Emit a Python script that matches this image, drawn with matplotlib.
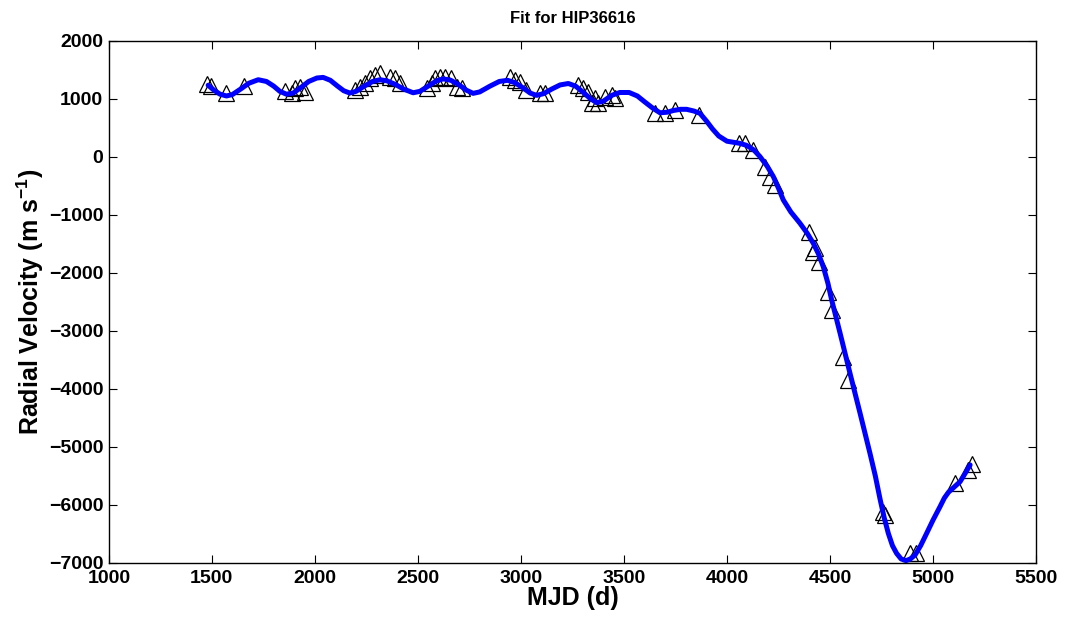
import matplotlib
matplotlib.use('Agg')
import matplotlib.pyplot as plt

plt.rcParams['font.family'] = ['Liberation Sans', 'DejaVu Sans']
plt.rcParams['mathtext.fontset'] = 'custom'
plt.rcParams['mathtext.rm'] = 'Liberation Sans'
plt.rcParams['mathtext.bf'] = 'Liberation Sans:bold'

# Observed radial velocities (triangles)
obs_mjd = [1474, 1498, 1571, 1655, 1854, 1887, 1903, 1927, 1951,
           2194, 2219, 2243, 2267, 2292, 2316, 2364, 2389, 2413,
           2542, 2566, 2583, 2607, 2631, 2663, 2688, 2712,
           2947, 2971, 2995, 3027, 3092, 3117,
           3279, 3303, 3327, 3343, 3359, 3375, 3408, 3440, 3457,
           3650, 3699, 3748, 3864,
           4058, 4087, 4128, 4184, 4210, 4233,
           4400, 4419, 4427, 4448, 4488, 4508, 4561, 4589,
           4758, 4767, 4888, 4917, 5107, 5171, 5187]
obs_rv = [1259, 1224, 1098, 1224, 1130, 1098, 1184, 1213, 1126,
          1155, 1213, 1270, 1357, 1414, 1443, 1385, 1357, 1270,
          1184, 1270, 1357, 1385, 1385, 1357, 1213, 1184,
          1385, 1328, 1298, 1155, 1098, 1098,
          1241, 1184, 1126, 926, 1012, 926, 1040, 1069, 1012,
          764, 760, 810, 724,
          236, 236, 121, -167, -340, -483,
          -1287, -1632, -1574, -1804, -2322, -2638, -3443, -3845,
          -6114, -6172, -6833, -6822, -5626, -5397, -5293]

# Fitted model curve
fit_mjd = [1482, 1510, 1540, 1571, 1600, 1640, 1680, 1725, 1765, 1800, 1830, 1862,
           1895, 1930, 1970, 2010, 2040, 2075, 2110, 2140, 2170, 2200, 2240, 2280,
           2316, 2350, 2390, 2430, 2477, 2510, 2550, 2590, 2623, 2660, 2700, 2735,
           2768, 2800, 2850, 2895, 2935, 2970, 3010, 3045, 3076, 3110, 3150, 3190,
           3230, 3265, 3300, 3335, 3367, 3400, 3440, 3480, 3525, 3565, 3600, 3640,
           3675, 3710, 3740, 3775, 3804, 3840, 3869, 3900, 3930, 3960, 4000, 4060,
           4094, 4130, 4160, 4195, 4225, 4250, 4273, 4310, 4354, 4390, 4419, 4445,
           4468, 4490, 4508, 4549, 4597, 4646, 4694, 4720, 4743, 4763, 4783, 4803,
           4823, 4845, 4869, 4890, 4913, 4940, 4969, 5000, 5034, 5055, 5075, 5100,
           5131, 5155, 5180]
fit_rv = [1235, 1150, 1080, 1050, 1075, 1170, 1270, 1330, 1300, 1220, 1130, 1080,
          1100, 1190, 1300, 1360, 1370, 1320, 1220, 1140, 1100, 1130, 1220, 1300,
          1330, 1310, 1250, 1170, 1105, 1130, 1220, 1310, 1345, 1320, 1240, 1150,
          1095, 1120, 1220, 1300, 1320, 1280, 1190, 1100, 1060, 1090, 1170, 1240,
          1265, 1220, 1120, 1010, 935, 960, 1060, 1110, 1110, 1050, 950, 840,
          760, 770, 800, 820, 820, 790, 750, 620, 480, 360, 270, 235,
          200, 120, 5, -160, -340, -540, -740, -950, -1143, -1320, -1490, -1680,
          -1900, -2180, -2466, -3040, -3730, -4420, -5110, -5500, -5900, -6220, -6489, -6700,
          -6833, -6930, -6960, -6930, -6862, -6700, -6489, -6260, -6029, -5880, -5780, -5700,
          -5600, -5460, -5310]

fig = plt.figure(figsize=(10.67, 6.19), dpi=100)
ax = fig.add_axes([0.102, 0.0905, 0.869, 0.8435])

ax.plot(obs_mjd, obs_rv, linestyle='none', marker='^', markersize=11,
        markerfacecolor='none', markeredgecolor='black', markeredgewidth=0.9)
ax.plot(fit_mjd, fit_rv, color='#0000ff', linewidth=3.6, solid_capstyle='round')

ax.set_xlim(1000, 5500)
ax.set_ylim(-7000, 2000)
ax.set_xticks(range(1000, 5501, 500))
ax.set_yticks(range(-7000, 2001, 1000))

ax.tick_params(direction='in', length=6, width=0.8, top=True, right=True,
               labelsize=14)
ax.tick_params(axis='x', pad=5)
ax.tick_params(axis='y', pad=4)
for lab in ax.get_xticklabels() + ax.get_yticklabels():
    lab.set_fontweight('bold')
for sp in ax.spines.values():
    sp.set_linewidth(1.0)

ax.set_title('Fit for HIP36616', fontsize=12, fontweight='bold', pad=13)
ax.set_xlabel('MJD (d)', fontsize=18, fontweight='bold', labelpad=-1)
ax.set_ylabel(r'Radial Velocity (m s$^{\mathbf{-1}}$)', fontsize=18,
              fontweight='bold', labelpad=2)

fig.savefig('out.png', dpi=100, facecolor='white')
plt.close(fig)
